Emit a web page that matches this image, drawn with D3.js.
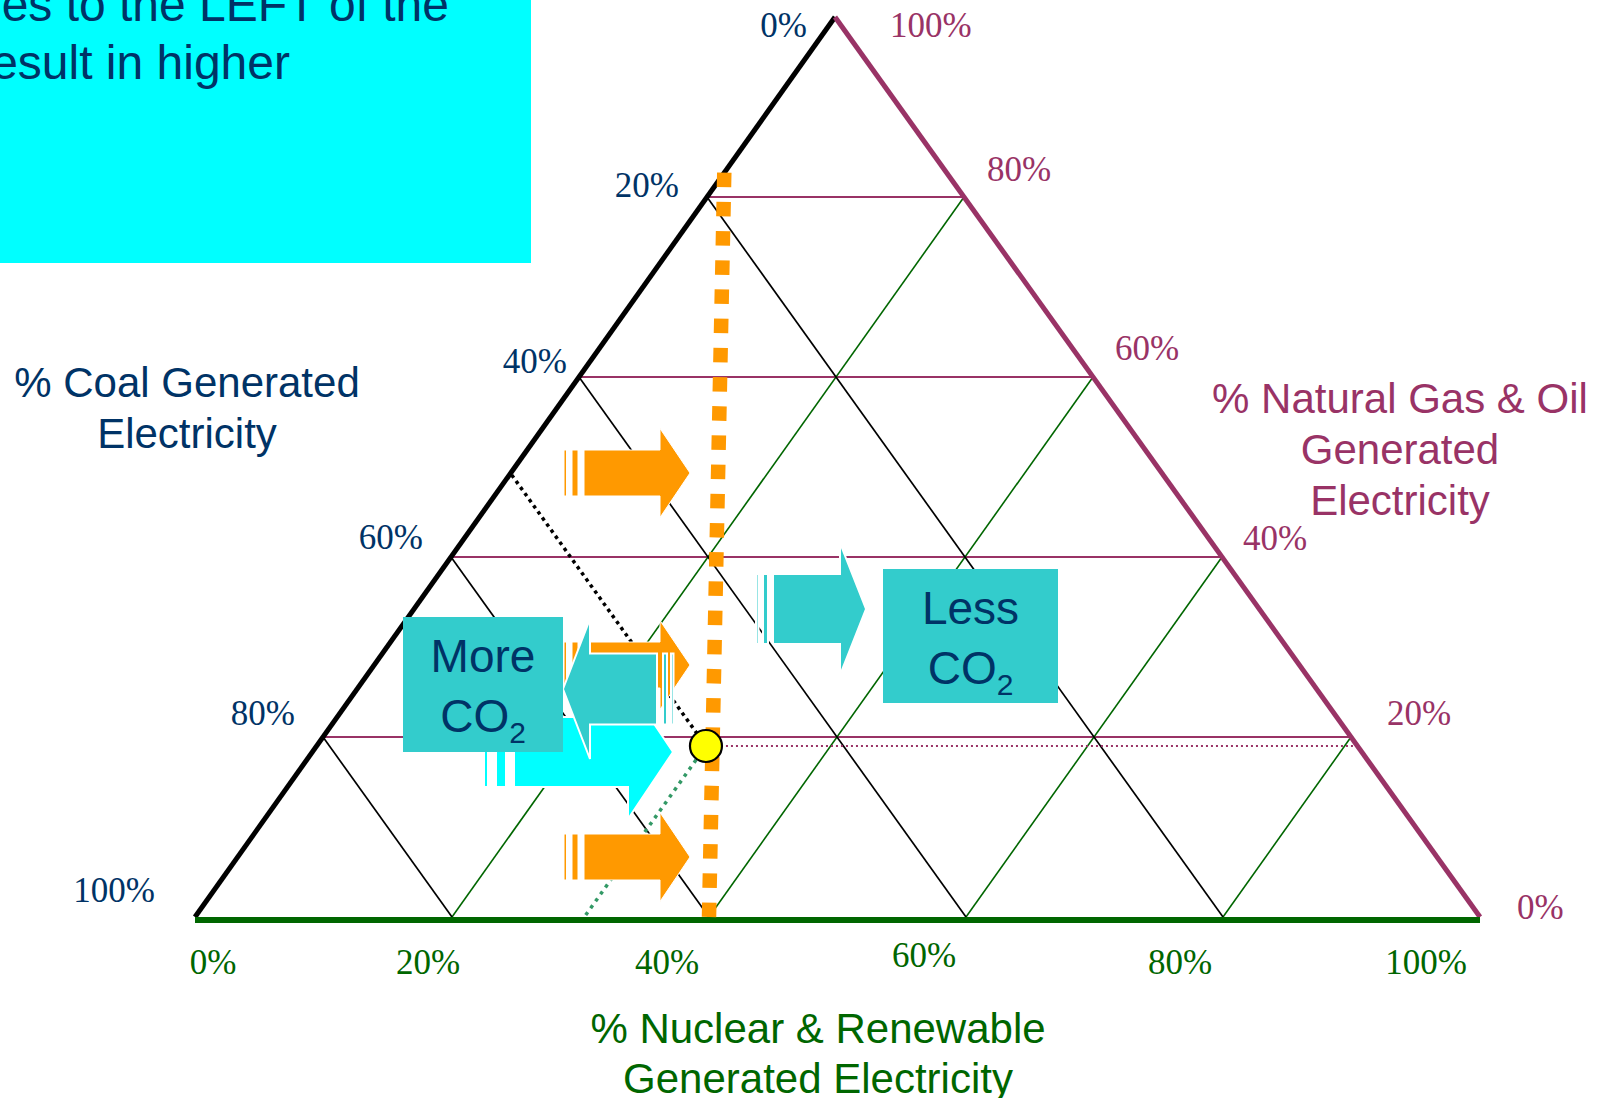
<!DOCTYPE html>
<html>
<head>
<meta charset="utf-8">
<script src="https://cdn.jsdelivr.net/npm/d3@7"></script>
<style>
  html, body { margin: 0; padding: 0; background: #fff; overflow: hidden; }
  svg { display: block; }
</style>
</head>
<body>
<svg id="chart" width="1600" height="1098"></svg>
<script>
// ---- data ---------------------------------------------------------------
// Interior grid levels and tick values, in percent of generation
const gridLevels = [20, 40, 60, 80];
const tickValues = [0, 20, 40, 60, 80, 100];
const tickLabels = ["0%", "20%", "40%", "60%", "80%", "100%"];

// Current generation mix: coal, nuclear & renewable, natural gas & oil (%)
const mixSources = ["coal", "nuclear", "gas"];
const currentMix = [50.7, 30.3, 19];

// Reference line: top end on the coal axis, bottom end on the nuclear axis
const refLineCoal = [17.3, 60];
const refLineNuclear = [0, 40];
const refLineGas = [82.7, 0];

// Text
const coalTitle = ["% Coal Generated", "Electricity"];
const gasTitle = ["% Natural Gas & Oil", "Generated", "Electricity"];
const nuclearTitle = ["% Nuclear & Renewable", "Generated Electricity"];
const noteLines = ["es to the LEFT of the", "esult in higher"];

// ---- layout -------------------------------------------------------------
const NAVY = "#003366", PLUM = "#993366", GREEN = "#006600";
const ORANGE = "#FF9900", TEAL = "#33CCCC", CYAN = "#00FFFF";
const SANS = "'Liberation Sans', Arial, sans-serif";
const SERIF = "'Liberation Serif', 'Times New Roman', serif";

const svg = d3.select("#chart");

// Triangle corners: apex = 100% gas, bottom-left = 100% coal, bottom-right = 100% nuclear
const apex = [835, 17], cornerL = [195, 917], cornerR = [1480, 917];
const nucScale = d3.scaleLinear().domain([0, 100]).range([cornerL[0], cornerR[0]]);
const gasScale = d3.scaleLinear().domain([0, 100]).range([cornerL[1], apex[1]]);
const apexShift = (apex[0] - cornerL[0]) / (cornerR[0] - cornerL[0]);

// Ternary (coal, nuclear, gas) -> screen point
function project(c, n, g) {
  const s = c + n + g;
  const nn = n / s * 100, gg = g / s * 100;
  return [nucScale(nn + gg * apexShift), gasScale(gg)];
}
const line = d3.line();

// Hand-placed label offsets from the axis point each tick label belongs to: [dx, dy]
const leftLabelShift  = { 0: [-28, 20], 20: [-28, 0], 40: [-12, -4], 60: [-28, -8], 80: [-28, -12], 100: [-40, -15] };
const rightLabelShift = { 100: [55, 20], 80: [23, -16], 60: [22, -17], 40: [21, -7], 20: [36, -12], 0: [37, 2] };
const bottomLabelShift = { 0: [18, 57], 20: [-24, 57], 40: [-42, 57], 60: [-42, 50], 80: [-43, 57], 100: [-54, 57] };

// ---- note box -----------------------------------------------------------
svg.append("rect").attr("x", 0).attr("y", 0).attr("width", 531).attr("height", 263).attr("fill", CYAN);
svg.append("g").selectAll("text").data(noteLines).join("text")
  .attr("x", (d, i) => i === 0 ? 449 : 290)
  .attr("y", (d, i) => 21 + i * 58)
  .attr("text-anchor", "end")
  .attr("font-family", SANS).attr("font-size", 48).attr("fill", NAVY)
  .text(d => d);

// ---- grid ---------------------------------------------------------------
const grid = svg.append("g").attr("fill", "none");
grid.selectAll("path.gas").data(gridLevels).join("path").attr("class", "gas")
  .attr("d", g => line([project(100 - g, 0, g), project(0, 100 - g, g)]))
  .attr("stroke", PLUM).attr("stroke-width", 2);
grid.selectAll("path.nuc").data(gridLevels).join("path").attr("class", "nuc")
  .attr("d", n => line([project(100 - n, n, 0), project(0, n, 100 - n)]))
  .attr("stroke", GREEN).attr("stroke-width", 1.6);
grid.selectAll("path.coal").data(gridLevels).join("path").attr("class", "coal")
  .attr("d", c => line([project(c, 100 - c, 0), project(c, 0, 100 - c)]))
  .attr("stroke", "#000").attr("stroke-width", 1.7);

// ---- triangle edges -----------------------------------------------------
const edges = svg.append("g").attr("fill", "none").attr("stroke-linecap", "butt");
edges.append("path").attr("d", line([project(100, 0, 0), project(0, 0, 100)]))
  .attr("stroke", "#000").attr("stroke-width", 5);
edges.append("path").attr("d", line([project(0, 0, 100), project(0, 100, 0)]))
  .attr("stroke", PLUM).attr("stroke-width", 5);
// the nuclear axis rule sits just under the base
edges.append("path").attr("d", line([project(100, 0, 0), project(0, 100, 0)]))
  .attr("transform", "translate(0,3)")
  .attr("stroke", GREEN).attr("stroke-width", 6);

// ---- current mix guides -------------------------------------------------
const [mc, mn, mg] = currentMix;
const mixPt = project(mc, mn, mg);
const guides = svg.append("g").attr("fill", "none");
guides.append("path").attr("d", line([mixPt, project(mc, 0, 100 - mc)]))
  .attr("stroke", "#000").attr("stroke-width", 3.5).attr("stroke-dasharray", "3.5,4");
guides.append("path").attr("d", line([mixPt, project(100 - mn, mn, 0)]))
  .attr("stroke", "#339966").attr("stroke-width", 3.5).attr("stroke-dasharray", "3.5,5");
guides.append("path").attr("d", line([mixPt, project(0, 100 - mg, mg)]))
  .attr("stroke", PLUM).attr("stroke-width", 2).attr("stroke-dasharray", "2,3");

// ---- reference line -----------------------------------------------------
svg.append("path")
  .attr("d", line(refLineCoal.map((c, i) => project(c, refLineNuclear[i], refLineGas[i]))))
  .attr("fill", "none").attr("stroke", ORANGE).attr("stroke-width", 14.5)
  .attr("stroke-dasharray", "14.5,14.7");

// ---- current mix point --------------------------------------------------
svg.append("circle").attr("cx", mixPt[0]).attr("cy", mixPt[1]).attr("r", 16)
  .attr("fill", "#FFFF00").attr("stroke", "#000").attr("stroke-width", 2.2);

// ---- block arrows -------------------------------------------------------
function arrowPath(a) {
  const { x0, x1, tip, cy, bh, hh } = a;
  return `M${x0},${cy - bh / 2}L${x1},${cy - bh / 2}L${x1},${cy - hh / 2}L${tip},${cy}` +
         `L${x1},${cy + hh / 2}L${x1},${cy + bh / 2}L${x0},${cy + bh / 2}Z`;
}
function drawArrow(a) {
  const g = svg.append("g").attr("fill", a.fill).attr("stroke", "#fff").attr("stroke-width", a.outline);
  a.stripes.forEach(([sx, sw]) => {
    g.append("rect").attr("x", sx).attr("y", a.cy - a.bh / 2).attr("width", sw).attr("height", a.bh);
  });
  g.append("path").attr("d", arrowPath(a));
}
const orangeStripes = [[564, 2.5], [572, 6]];
drawArrow({ fill: ORANGE, outline: 1, stripes: orangeStripes, x0: 584, x1: 660, tip: 690, cy: 473, bh: 46, hh: 89 });
drawArrow({ fill: ORANGE, outline: 1, stripes: orangeStripes, x0: 584, x1: 660, tip: 690, cy: 857, bh: 46, hh: 89 });
drawArrow({ fill: ORANGE, outline: 1, stripes: orangeStripes, x0: 584, x1: 660, tip: 690, cy: 665, bh: 46, hh: 89 });
drawArrow({ fill: CYAN, outline: 2, stripes: [[484, 4], [496, 10]], x0: 514, x1: 628, tip: 673, cy: 752, bh: 70, hh: 134 });
drawArrow({ fill: TEAL, outline: 2, stripes: [[663, 4], [671, 2.5]], x0: 657, x1: 590, tip: 563, cy: 689, bh: 71, hh: 140 });
drawArrow({ fill: TEAL, outline: 2, stripes: [[756, 2.5], [763, 5]], x0: 773, x1: 840, tip: 866, cy: 609, bh: 70, hh: 132 });

// ---- CO2 boxes ----------------------------------------------------------
function co2Box(x, y, w, h, word) {
  const g = svg.append("g");
  g.append("rect").attr("x", x).attr("y", y).attr("width", w).attr("height", h).attr("fill", TEAL);
  g.append("text").attr("x", x + w / 2).attr("y", y + 55).attr("text-anchor", "middle")
    .attr("font-family", SANS).attr("font-size", 46).attr("fill", NAVY).text(word);
  const t = g.append("text").attr("x", x + w / 2).attr("y", y + 115).attr("text-anchor", "middle")
    .attr("font-family", SANS).attr("font-size", 46).attr("fill", NAVY);
  t.append("tspan").text("CO");
  t.append("tspan").attr("font-size", 30).attr("dy", 11).text("2");
}
co2Box(403, 617, 160, 135, "More");
co2Box(883, 569, 175, 134, "Less");

// ---- tick labels --------------------------------------------------------
const ticks = svg.append("g").attr("font-family", SERIF).attr("font-size", 35);
// coal, along the left edge
ticks.append("g").selectAll("text").data(tickValues).join("text")
  .each(function (v, i) {
    const [px, py] = project(v, 0, 100 - v);
    const [dx, dy] = leftLabelShift[v];
    d3.select(this).attr("x", px + dx).attr("y", py + dy)
      .attr("text-anchor", "end").attr("fill", NAVY).text(tickLabels[i]);
  });
// gas, along the right edge
ticks.append("g").selectAll("text").data(tickValues).join("text")
  .each(function (v, i) {
    const [px, py] = project(0, 100 - v, v);
    const [dx, dy] = rightLabelShift[v];
    d3.select(this).attr("x", px + dx).attr("y", py + dy)
      .attr("text-anchor", "start").attr("fill", PLUM).text(tickLabels[i]);
  });
// nuclear & renewable, along the bottom
ticks.append("g").selectAll("text").data(tickValues).join("text")
  .each(function (v, i) {
    const [px, py] = project(100 - v, v, 0);
    const [dx, dy] = bottomLabelShift[v];
    d3.select(this).attr("x", px + dx).attr("y", py + dy)
      .attr("text-anchor", "middle").attr("fill", GREEN).text(tickLabels[i]);
  });

// ---- axis titles --------------------------------------------------------
function title(lines, cx, y0, step, color) {
  svg.append("g").selectAll("text").data(lines).join("text")
    .attr("x", cx).attr("y", (d, i) => y0 + i * step).attr("text-anchor", "middle")
    .attr("font-family", SANS).attr("font-size", 42).attr("fill", color).text(d => d);
}
title(coalTitle, 187, 397, 51, NAVY);
title(gasTitle, 1400, 413, 51, PLUM);
title(nuclearTitle, 818, 1043, 50, GREEN);
</script>
</body>
</html>
